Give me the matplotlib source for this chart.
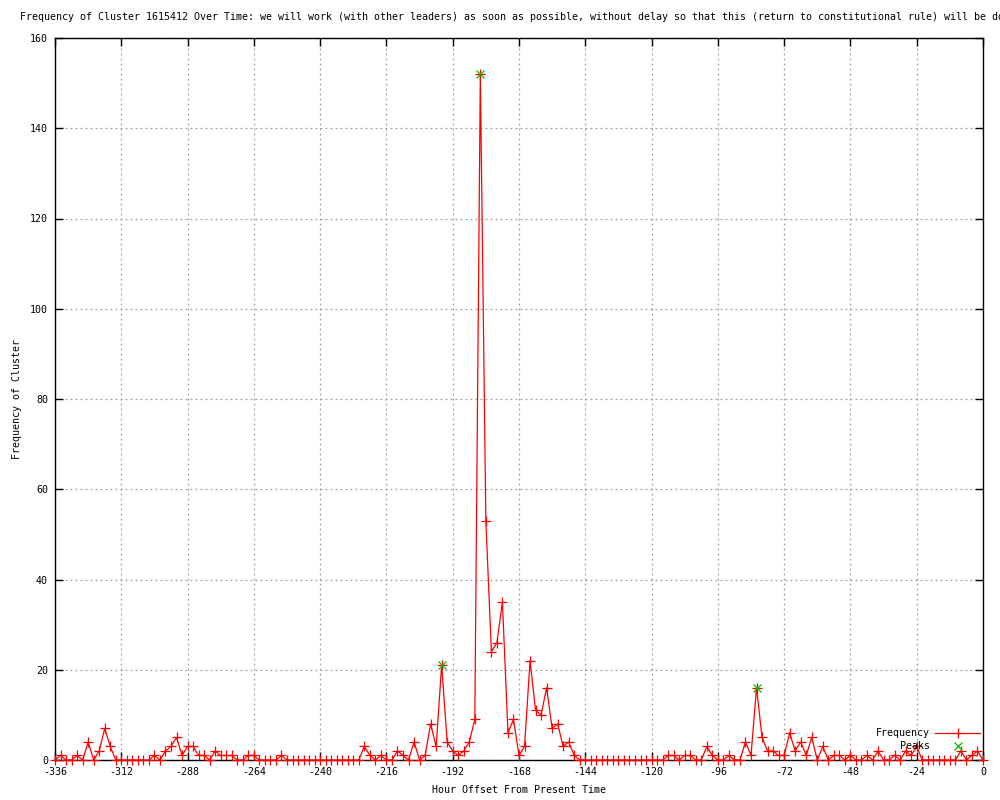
import matplotlib

matplotlib.use("Agg")

import matplotlib.pyplot as plt  # noqa: E402
from matplotlib.lines import Line2D  # noqa: E402

# hourly offsets (every 2 hours) and cluster frequency at each
hours = list(range(-336, 1, 2))
frequency = [
    0, 1, 0, 0, 1, 0, 4, 0, 2, 7,        # -336 .. -318
    3, 0, 0, 0, 0, 0, 0, 0, 1, 0,        # -316 .. -298
    2, 3, 5, 1, 3, 3, 1, 1, 0, 2,        # -296 .. -278
    1, 1, 1, 0, 0, 1, 1, 0, 0, 0,        # -276 .. -258
    0, 1, 0, 0, 0, 0, 0, 0, 0, 0,        # -256 .. -238
    0, 0, 0, 0, 0, 0, 3, 1, 0, 1,        # -236 .. -218
    0, 0, 2, 1, 0, 4, 0, 1, 8, 3,        # -216 .. -198
    21, 4, 2, 1, 2, 4, 9, 152, 53, 24,   # -196 .. -178
    26, 35, 6, 9, 1, 3, 22, 11, 10, 16,  # -176 .. -158
    7, 8, 3, 4, 1, 0, 0, 0, 0, 0,        # -156 .. -138
    0, 0, 0, 0, 0, 0, 0, 0, 0, 0,        # -136 .. -118
    0, 1, 1, 0, 1, 1, 0, 0, 3, 1,        # -116 .. -98
    0, 0, 1, 0, 0, 4, 1, 16, 5, 2,       # -96 .. -78
    2, 1, 1, 6, 2, 4, 1, 5, 0, 3,        # -76 .. -58
    0, 1, 1, 0, 1, 0, 0, 1, 0, 2,        # -56 .. -38
    0, 0, 1, 0, 2, 1, 3, 0, 0, 0,        # -36 .. -18
    0, 0, 0, 0, 2, 0, 1, 2, 0,           # -16 .. 0
]

peak_hours = [-196, -182, -82]
peak_values = [21, 152, 16]

xticks = list(range(-336, 1, 24))
yticks = list(range(0, 161, 20))

title = (
    "Frequency of Cluster 1615412 Over Time: we will work (with other leaders) "
    "as soon as possible, without delay so that this (return to constitutional "
    "rule) will be done"
)

plt.rcParams["font.family"] = ["DejaVu Sans Mono"]
plt.rcParams["axes.unicode_minus"] = False
FS = 7.2

fig = plt.figure(figsize=(10, 8), dpi=100)
ax = fig.add_axes([0.055, 0.05, 0.928, 0.9025])

ax.plot(hours, frequency, color="red", lw=0.9, marker="+", ms=6.5, mew=0.9,
        clip_on=False, zorder=3)
ax.plot(peak_hours, peak_values, linestyle="none", color="#00c000",
        marker="x", ms=5.5, mew=0.9, clip_on=False, zorder=4)

ax.set_xlim(-336, 0)
ax.set_ylim(0, 160)
ax.set_xticks(xticks)
ax.set_yticks(yticks)
ax.tick_params(direction="in", length=6, width=1, labelsize=FS,
               top=True, right=True, pad=5)
ax.grid(True, color="#a0a0a0", linestyle=(0, (1.5, 2.5)), lw=0.9)
for side in ax.spines.values():
    side.set_linewidth(1)

ax.set_xlabel("Hour Offset From Present Time", fontsize=FS, labelpad=6)
ax.set_ylabel("Frequency of Cluster", fontsize=FS, labelpad=6)

# the title runs past the right edge, as in the original gnuplot output
fig.text(0.02, 1 - 17 / 800, title, fontsize=FS, ha="left", va="center")

# gnuplot-style key, bottom right
key_text_x = 930 / 1000
key_line = (935 / 1000, 980 / 1000)
rows = [(1 - 733 / 800, "Frequency"), (1 - 746 / 800, "Peaks")]
for (y, label) in rows:
    fig.text(key_text_x, y, label, fontsize=FS, ha="right", va="center")
y0 = rows[0][0]
fig.add_artist(Line2D(key_line, [y0, y0], color="red", lw=0.9))
fig.add_artist(Line2D([sum(key_line) / 2], [y0], color="red", marker="+",
                      ms=6.5, mew=0.9))
y1 = rows[1][0]
fig.add_artist(Line2D([sum(key_line) / 2], [y1], color="#00c000", marker="x",
                      ms=5.5, mew=0.9))

fig.savefig("out.png", dpi=100)
